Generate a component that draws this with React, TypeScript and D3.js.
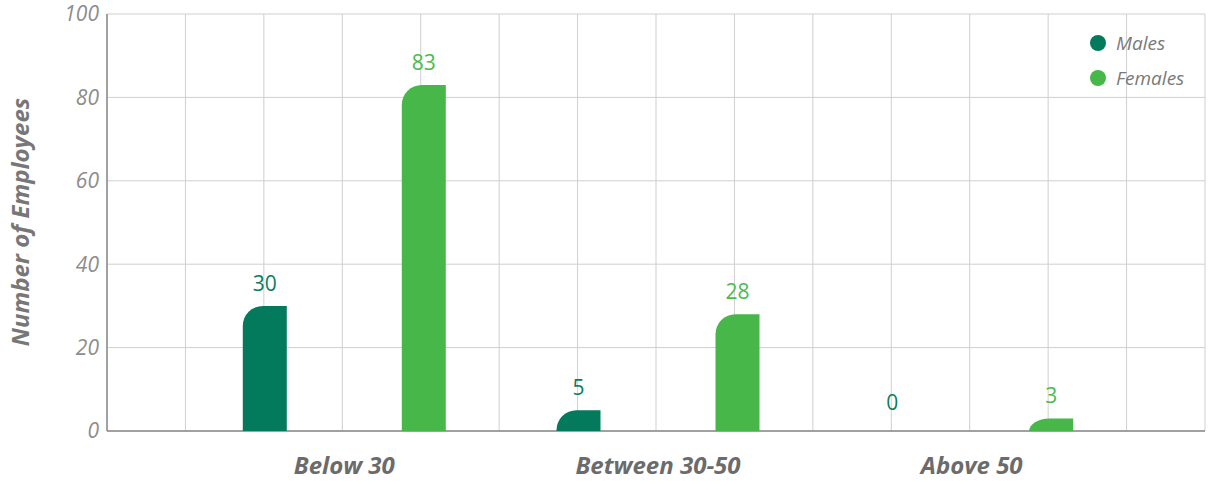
import React from "react";
import * as d3 from "d3";

const categories = ["Below 30", "Between 30-50", "Above 50"];
const seriesNames = ["Males", "Females"];
const males = [30, 5, 0];
const females = [83, 28, 3];
const yTicks = [0, 20, 40, 60, 80, 100];
const colors = ["#047a5c", "#48b74a"];
const labelColors = ["#0b7d5f", "#4cbb4f"];

const W = 1208;
const H = 481;
const left = 107;
const right = 1205;
const top = 14;
const bottom = 431;
const FONT = "'Open Sans', 'Noto Sans', sans-serif";

function barPath(x: number, y: number, w: number, h: number, r: number) {
  if (h <= 0) return "";
  const rx = Math.min(r, w);
  const ry = Math.min(r, h);
  return `M${x},${y + h} L${x},${y + ry} A${rx},${ry} 0 0 1 ${x + rx},${y} L${x + w},${y} L${x + w},${y + h} Z`;
}

export default function App() {
  const colW = (right - left) / 14;
  const x = d3.scaleBand<string>().domain(categories).range([left + colW + 2, right - colW + 2]).padding(0);
  const xs = d3.scalePoint<string>().domain(seriesNames).range([-79.5, 79.5]);
  const y = d3.scaleLinear().domain([0, 100]).range([bottom, top]);
  const barW = 44;
  const gridX = d3.range(0, 15).map((i) => left + i * colW);
  const data = [males, females];

  return (
    <svg width={W} height={H} style={{ position: "absolute", left: 0, top: 0, fontFamily: FONT }}>
      {gridX.map((gx, i) => (
        <line key={"gx" + i} x1={gx} x2={gx} y1={top} y2={bottom} stroke="#cfcfcf" strokeWidth={1} />
      ))}
      {yTicks.map((t) => (
        <line key={"gy" + t} x1={left} x2={right} y1={y(t)} y2={y(t)} stroke="#cfcfcf" strokeWidth={1} />
      ))}
      <line x1={left} x2={left} y1={top} y2={bottom} stroke="#8a8a8a" strokeWidth={1.5} />
      <line x1={left} x2={right} y1={bottom} y2={bottom} stroke="#8a8a8a" strokeWidth={1.5} />
      {yTicks.map((t) => (
        <text key={"yt" + t} x={99} y={y(t)} dy="0.35em" textAnchor="end" fontSize={21} fontWeight={400} fontStyle="italic" fill="#8d8d8d">
          {t}
        </text>
      ))}
      {categories.map((c) => (
        <text key={"xl" + c} x={(x(c) as number) + x.bandwidth() / 2} y={474} textAnchor="middle" fontSize={24} fontWeight={700} fontStyle="italic" fill="#6b6b6b">
          {c}
        </text>
      ))}
      <text transform={`translate(29,222) rotate(-90)`} textAnchor="middle" fontSize={24} fontWeight={700} fontStyle="italic" fill="#777">
        Number of Employees
      </text>
      {seriesNames.map((s, si) =>
        categories.map((c, ci) => {
          const v = data[si][ci];
          const cx = (x(c) as number) + x.bandwidth() / 2 + (xs(s) as number);
          const bx = cx - barW / 2;
          const by = y(v);
          return (
            <g key={s + c}>
              <path d={barPath(bx, by, barW, bottom - by, 20)} fill={colors[si]} />
              <text x={cx} y={v > 0 ? by - 15 : by - 21} textAnchor="middle" fontSize={21} fill={labelColors[si]}>
                {v}
              </text>
            </g>
          );
        })
      )}
      {seriesNames.map((s, si) => (
        <g key={"lg" + s} transform={`translate(1098,${43 + si * 35})`}>
          <circle r={8} fill={colors[si]} />
          <text x={18} dy="0.35em" fontSize={19} fontStyle="italic" fill="#7a7a7a">
            {s}
          </text>
        </g>
      ))}
    </svg>
  );
}
